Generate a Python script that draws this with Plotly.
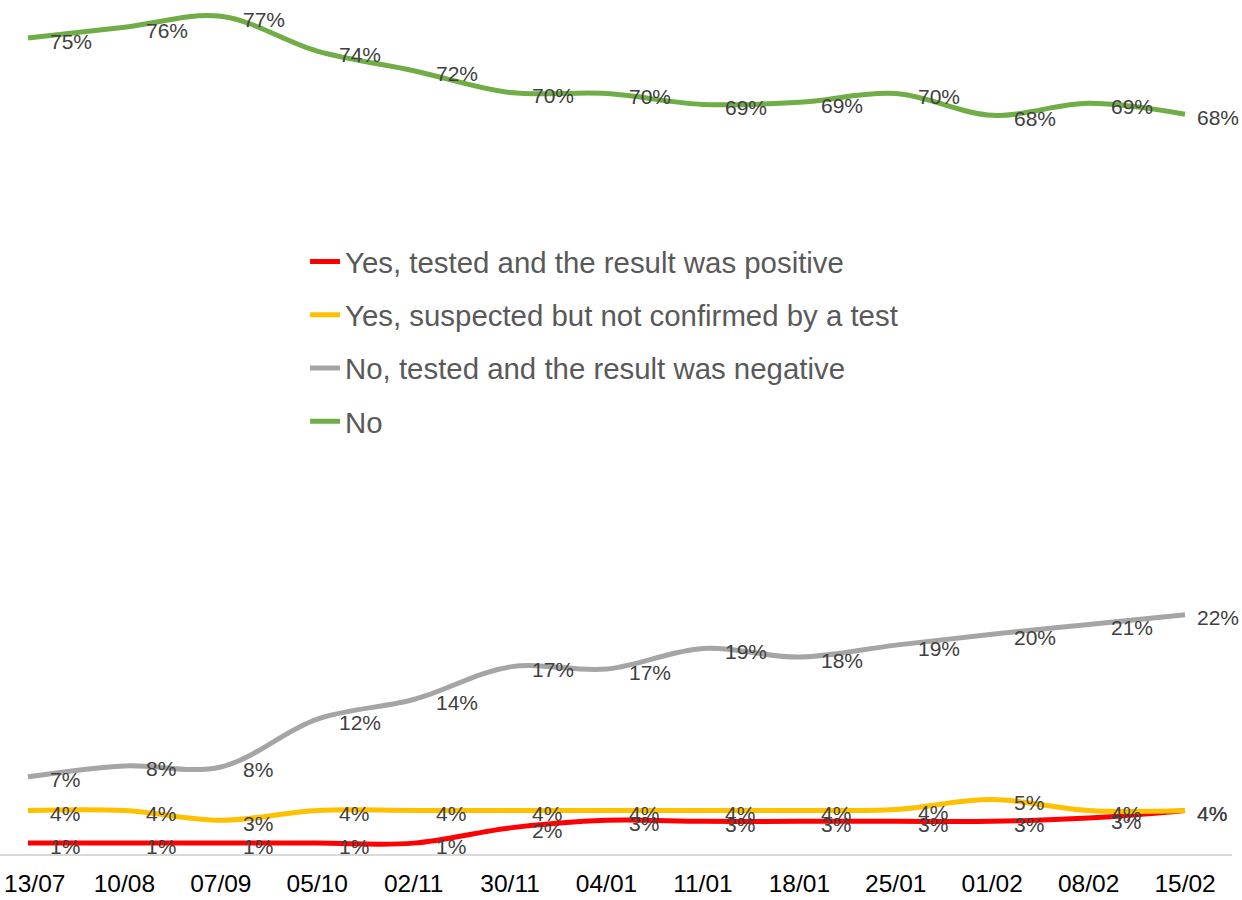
import plotly.graph_objects as go

# survey waves (x axis)
dates = ["13/07", "10/08", "07/09", "05/10", "02/11", "30/11", "04/01",
         "11/01", "18/01", "25/01", "01/02", "08/02", "15/02"]

# share of respondents, %
positive = [1.0, 1.0, 1.0, 1.0, 1.0, 2.4, 3.1, 3.0, 3.0, 3.0, 3.0, 3.3, 4.0]
suspected = [4.0, 4.0, 3.1, 4.0, 4.0, 4.0, 4.0, 4.0, 4.0, 4.1, 5.0, 4.0, 4.0]
negative = [7.1, 8.1, 8.0, 12.4, 14.2, 17.2, 17.0, 18.9, 18.1, 19.2, 20.2, 21.1, 22.0]
no_covid = [75.0, 76.0, 77.0, 73.8, 72.0, 70.0, 69.9, 68.9, 69.1, 69.9, 67.9, 69.0, 68.0]

series = [
    ("Yes, tested and the result was positive", positive, "#FF0000"),
    ("Yes, suspected but not confirmed by a test", suspected, "#FFC000"),
    ("No, tested and the result was negative", negative, "#A5A5A5"),
    ("No", no_covid, "#70AD47"),
]

fig = go.Figure()

for i, (name, vals, color) in enumerate(series):
    fig.add_trace(go.Scatter(
        x=dates, y=vals, name=name, mode="lines",
        line=dict(color=color, width=5, shape="spline", smoothing=1),
        legendgroup=f"g{i}",
    ))
    # data labels, to the right of each point
    for j, (d, v) in enumerate(zip(dates, vals)):
        fig.add_annotation(
            x=d, y=v, text=f"{round(v)}%", showarrow=False,
            xanchor="left", yanchor="middle",
            xshift=10 if j == len(dates) - 1 else 20, yshift=-3,
            font=dict(family="Liberation Sans, Arial", size=21, color="#404040"),
        )

# first tick label sits a little inside the left edge, like in Excel
tick_text = ["\u00a0\u00a0" + dates[0]] + dates[1:]

fig.update_layout(
    width=1242, height=900,
    margin=dict(l=0, r=10, t=0, b=46, autoexpand=False),
    plot_bgcolor="white", paper_bgcolor="white",
    font=dict(family="Liberation Sans, Arial"),
    showlegend=True,
    legend=dict(
        x=0.2476, y=0.7238, xanchor="left", yanchor="top",
        font=dict(size=29.4, color="#595959"),
        tracegroupgap=12, bgcolor="rgba(0,0,0,0)",
    ),
)

fig.update_xaxes(
    type="category", range=[-0.290, 12.487], automargin=False,
    tickvals=dates, ticktext=tick_text,
    showgrid=False, zeroline=False,
    showline=True, linecolor="#D9D9D9", linewidth=1.5,
    ticks="", tickfont=dict(size=24.5, color="#000000"),
    ticklabelstandoff=7,
)
fig.update_yaxes(
    range=[0, 78.5], visible=False, showgrid=False, zeroline=False,
)

# drop the default 8px body margin so the figure fills the window
fig.write_html("out.html", config={"displayModeBar": False},
               post_script="document.body.style.margin='0';")
